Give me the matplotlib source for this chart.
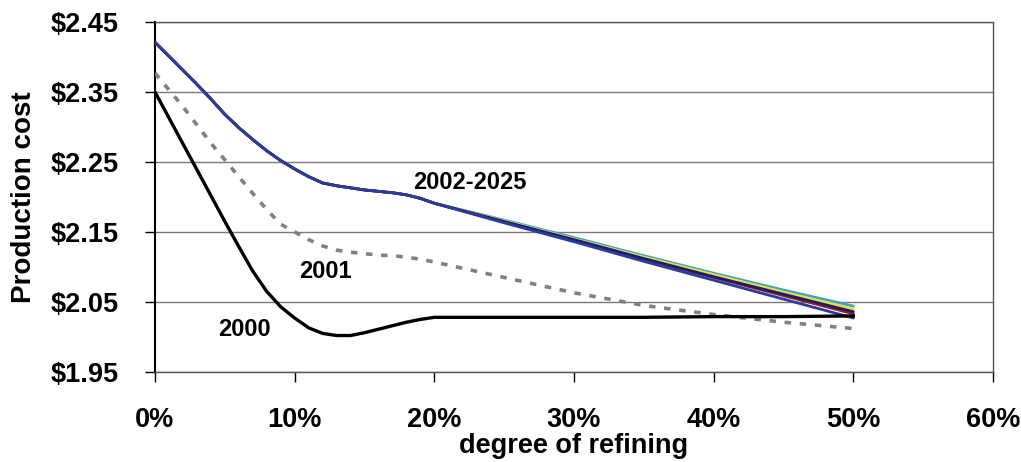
import matplotlib
matplotlib.use("Agg")
import matplotlib.pyplot as plt
from matplotlib.ticker import FuncFormatter

plt.rcParams['font.family'] = ['Liberation Sans', 'DejaVu Sans']
plt.rcParams['font.weight'] = 'bold'

# degree of refining (%)
refining = [0, 1, 2, 3, 4, 5, 6, 7, 8, 9, 10, 11, 12, 13, 14, 15, 16, 17, 18, 19, 20,
            25, 30, 35, 40, 45, 50]

# production cost ($) by year
cost_2000 = [2.350, 2.313, 2.276, 2.239, 2.202, 2.165, 2.129, 2.094, 2.065, 2.043,
             2.027, 2.013, 2.005, 2.002, 2.002, 2.006, 2.011, 2.016, 2.021, 2.025,
             2.028, 2.028, 2.028, 2.028, 2.029, 2.029, 2.030]
cost_2001 = [2.377, 2.353, 2.329, 2.303, 2.277, 2.253, 2.229, 2.205, 2.182, 2.161,
             2.150, 2.139, 2.130, 2.124, 2.121, 2.119, 2.117, 2.116, 2.114, 2.111,
             2.107, 2.085, 2.063, 2.045, 2.032, 2.021, 2.012]

# 2002-2025: curves coincide up to 20% refining, then fan out slightly
cost_2002_2025_head = [2.421, 2.401, 2.381, 2.361, 2.340, 2.318, 2.299, 2.282, 2.266,
                       2.252, 2.240, 2.229, 2.220, 2.216, 2.213, 2.210, 2.208, 2.206,
                       2.203, 2.198, 2.191]
cost_2002_2025_tails = {
    '#3fa0c8': [2.167, 2.142, 2.116, 2.091, 2.067, 2.044],
    '#e6e03c': [2.166, 2.140, 2.114, 2.089, 2.064, 2.040],
    '#9b1c1c': [2.164, 2.138, 2.111, 2.085, 2.059, 2.033],
    '#1c1c6e': [2.165, 2.139, 2.112, 2.086, 2.061, 2.036],
    '#2a3c9c': [2.163, 2.136, 2.108, 2.081, 2.054, 2.027],
}

x_ticks = [0, 10, 20, 30, 40, 50, 60]
y_ticks = [1.95, 2.05, 2.15, 2.25, 2.35, 2.45]

fig = plt.figure(figsize=(10.21, 4.62), dpi=100)
ax = fig.add_axes([0.1518, 0.195, 0.8208, 0.7574])

for color, tail in cost_2002_2025_tails.items():
    ax.plot(refining, cost_2002_2025_head + tail, color=color, lw=2.0,
            solid_joinstyle='round', solid_capstyle='round', zorder=3)
ax.plot(refining, cost_2001, color='#808080', lw=2.6, dashes=(1.8, 2.4), zorder=3)
ax.plot(refining, cost_2000, color='black', lw=2.4, solid_joinstyle='round', zorder=4)

ax.text(18.5, 2.221, '2002-2025', fontsize=17, fontweight='bold', va='center', ha='left')
ax.text(10.3, 2.093, '2001', fontsize=17, fontweight='bold', va='center', ha='left')
ax.text(4.5, 2.010, '2000', fontsize=17, fontweight='bold', va='center', ha='left')

ax.set_xlim(0, 60)
ax.set_ylim(1.95, 2.45)
ax.set_xticks(x_ticks)
ax.set_yticks(y_ticks)
ax.xaxis.set_major_formatter(FuncFormatter(lambda v, p: f'{v:.0f}%'))
ax.yaxis.set_major_formatter(FuncFormatter(lambda v, p: f'${v:.2f}'))
ax.grid(axis='y', color='#7a7a7a', lw=1.0)
ax.set_axisbelow(True)

for side in ['top', 'right', 'bottom']:
    ax.spines[side].set_color('#555555')
    ax.spines[side].set_linewidth(1.0)
ax.spines['left'].set_color('black')
ax.spines['left'].set_linewidth(1.5)

ax.tick_params(axis='y', direction='out', length=7, width=1.0, pad=19, labelsize=19.5)
ax.tick_params(axis='x', direction='out', length=7, width=1.0, pad=18, labelsize=19.5)
for lab in ax.get_xticklabels() + ax.get_yticklabels():
    lab.set_fontweight('bold')

ax.set_xlabel('degree of refining', fontsize=19.5, fontweight='bold', labelpad=0)
ax.set_ylabel('Production cost', fontsize=20, fontweight='bold', labelpad=10)

fig.savefig('out.png', dpi=100)
